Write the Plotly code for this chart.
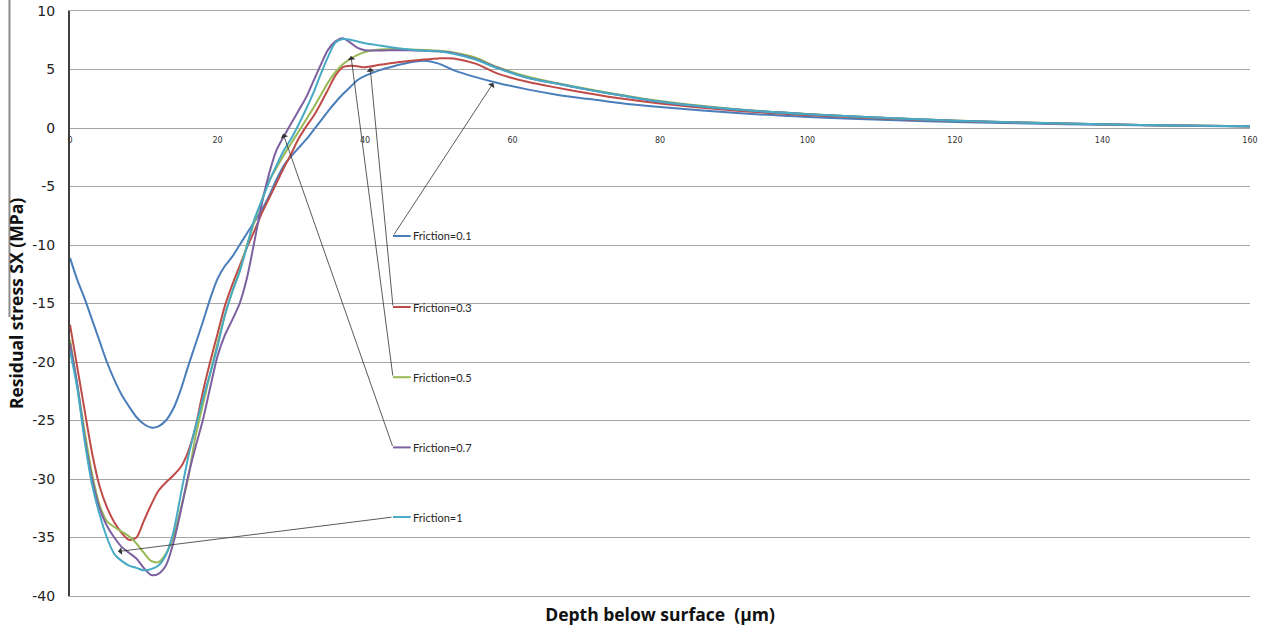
import plotly.graph_objects as go

depth = [0, 1, 2, 3, 4, 5, 6, 7, 8, 9, 10, 11, 12, 13, 14, 15, 16, 17, 18, 19,
         20, 21, 22, 23, 24, 25, 26, 27, 28, 29, 30, 31, 32, 33, 34, 35, 36, 37,
         38, 39, 40, 42, 44, 46, 48, 50, 52, 55, 58, 62, 66, 70, 75, 80, 90, 100,
         110, 120, 130, 140, 150, 160]

f01 = [-11.1, -13.0, -14.6, -16.4, -18.2, -20.0, -21.5, -22.8, -23.8, -24.7,
       -25.3, -25.6, -25.5, -25.0, -24.0, -22.4, -20.4, -18.5, -16.6, -14.6,
       -12.9, -11.8, -11.0, -10.0, -9.0, -8.0, -7.0, -5.8, -4.4, -3.2,
       -2.4, -1.7, -1.0, -0.2, 0.6, 1.45, 2.2, 2.9, 3.5, 4.1,
       4.45, 4.95, 5.3, 5.6, 5.75, 5.5, 4.95, 4.35, 3.85, 3.3,
       2.85, 2.5, 2.1, 1.8, 1.3, 0.95, 0.7, 0.52, 0.38, 0.28, 0.2, 0.13]

f03 = [-16.8, -20.5, -24.2, -27.8, -30.6, -32.4, -33.7, -34.6, -35.2, -35.0,
       -33.6, -32.2, -31.0, -30.3, -29.7, -29.0, -27.7, -25.6, -22.6, -20.0,
       -17.6, -15.2, -13.4, -11.8, -10.2, -8.8, -7.3, -6.0, -4.7, -3.4,
       -2.2, -0.9, 0.1, 1.0, 2.1, 3.3, 4.5, 5.2, 5.33, 5.27,
       5.2, 5.4, 5.58, 5.72, 5.85, 5.95, 5.95, 5.5, 4.65, 3.95,
       3.45, 3.0, 2.5, 2.1, 1.5, 1.1, 0.82, 0.6, 0.44, 0.31, 0.22, 0.15]

f05 = [-18.1, -22.0, -26.0, -29.6, -32.2, -33.6, -34.1, -34.5, -34.9, -35.5,
       -36.3, -37.0, -37.1, -36.4, -35.0, -32.6, -30.0, -26.4, -23.7, -21.0,
       -18.4, -16.0, -14.0, -12.2, -10.0, -8.0, -6.2, -4.5, -3.4, -2.3,
       -1.3, -0.3, 0.7, 1.7, 2.8, 3.9, 4.8, 5.45, 5.9, 6.25,
       6.5, 6.7, 6.75, 6.72, 6.67, 6.6, 6.45, 6.0, 5.2, 4.4,
       3.85, 3.35, 2.8, 2.3, 1.62, 1.2, 0.88, 0.64, 0.46, 0.32, 0.22, 0.15]

f07 = [-18.4, -22.0, -26.5, -30.0, -32.5, -34.0, -35.0, -35.8, -36.3, -36.8,
       -37.6, -38.2, -38.1, -37.4, -35.5, -32.8, -29.8, -27.3, -25.0, -22.2,
       -19.5, -17.7, -16.4, -15.0, -12.8, -9.7, -6.5, -3.9, -1.9, -0.7,
       0.4, 1.5, 2.6, 4.0, 5.4, 6.7, 7.4, 7.67, 7.3, 6.85,
       6.65, 6.62, 6.65, 6.65, 6.6, 6.55, 6.4, 5.9, 5.15, 4.3,
       3.8, 3.3, 2.75, 2.25, 1.6, 1.18, 0.87, 0.63, 0.45, 0.32, 0.22, 0.15]

f10 = [-19.0, -22.3, -26.8, -30.5, -33.0, -35.0, -36.4, -37.0, -37.4, -37.6,
       -37.8, -37.7, -37.4, -36.5, -34.6, -31.4, -28.2, -25.6, -23.2, -21.0,
       -18.7, -16.0, -14.0, -12.3, -10.1, -7.8, -6.2, -4.6, -3.2, -1.9,
       -0.9, 0.3, 1.6, 3.0, 4.6, 6.1, 7.3, 7.6, 7.55, 7.4,
       7.25, 7.05, 6.85, 6.7, 6.6, 6.55, 6.35, 5.85, 5.1, 4.3,
       3.8, 3.3, 2.75, 2.25, 1.6, 1.18, 0.87, 0.63, 0.45, 0.32, 0.22, 0.15]

series_names = ["Friction=0.1", "Friction=0.3", "Friction=0.5", "Friction=0.7", "Friction=1"]
series_values = [f01, f03, f05, f07, f10]
colors = ["#4A7EBB", "#BE4B48", "#98B954", "#7D60A0", "#46AAC5"]

# label anchor (y) and arrow targets (x, y)
label_y = [-9.23, -15.3, -21.3, -27.3, -33.25]
target_x = [57.4, 40.7, 38.1, 28.9, 6.5]
target_y = [3.85, 5.15, 6.15, -0.5, -36.2]

x_ticks = [0, 20, 40, 60, 80, 100, 120, 140, 160]
y_ticks = [10, 5, 0, -5, -10, -15, -20, -25, -30, -35, -40]

fig = go.Figure()
for name, vals, col in zip(series_names, series_values, colors):
    fig.add_trace(go.Scatter(x=depth, y=vals, mode="lines", name=name,
                             line=dict(color=col, width=2, shape="spline", smoothing=0.8),
                             showlegend=False))

# dummy trace for tick-label axis
fig.add_trace(go.Scatter(x=[0, 160], y=[None, None], xaxis="x2", mode="lines",
                         showlegend=False, hoverinfo="skip"))

key_x0, key_x1, text_x = 43.8, 46.2, 46.3
annotations = []
shapes = []
for name, ly, tx, ty, col in zip(series_names, label_y, target_x, target_y, colors):
    annotations.append(dict(x=tx, y=ty, ax=key_x0, ay=ly, xref="x", yref="y",
                            axref="x", ayref="y", text="", showarrow=True,
                            arrowhead=1, arrowsize=1.6, arrowwidth=0.8,
                            arrowcolor="#303030", standoff=0, startstandoff=0))
    annotations.append(dict(x=text_x, y=ly, xref="x", yref="y", text=name,
                            showarrow=False, xanchor="left", yanchor="middle",
                            font=dict(family="Lato", size=11, color="#262626")))
    shapes.append(dict(type="line", xref="x", yref="y", x0=key_x0, x1=key_x1,
                       y0=ly, y1=ly, line=dict(color=col, width=2)))

shapes.append(dict(type="line", xref="paper", yref="paper", x0=-0.0513, x1=-0.0513,
                   y0=0.477, y1=1.0188, line=dict(color="#8c8c8c", width=2)))

fig.update_layout(
    width=1266, height=630,
    margin=dict(l=70, r=16, t=11, b=34),
    paper_bgcolor="white", plot_bgcolor="white",
    annotations=annotations, shapes=shapes,
    xaxis=dict(range=[0, 160], showgrid=False, zeroline=False, automargin=False,
               showticklabels=False, ticks="", showline=True,
               linecolor="#a6a6a6", linewidth=1, mirror=True,
               title=dict(text="<b>Depth below surface  (µm)</b>", standoff=12,
                          font=dict(family="Open Sans", size=17.5, color="#111"))),
    xaxis2=dict(overlaying="x", matches="x", anchor="free", position=0.8,
                side="bottom", showgrid=False, zeroline=False, showline=False,
                automargin=False, ticklabeloverflow="allow",
                ticks="", tickvals=x_ticks, ticktext=[str(v) for v in x_ticks],
                tickfont=dict(family="DejaVu Sans", size=8, color="#333"),
                ticklabelstandoff=6),
    yaxis=dict(range=[-40, 10], tickvals=y_ticks, ticktext=[str(v) for v in y_ticks],
               showgrid=True, gridcolor="#a6a6a6", gridwidth=1, zeroline=False,
               automargin=False, ticklabeloverflow="allow",
               showline=True, linecolor="#404040", linewidth=2, ticks="",
               ticklabelstandoff=10,
               tickfont=dict(family="DejaVu Sans", size=14, color="#222"),
               title=dict(text="<b>Residual stress SX (MPa)</b>", standoff=4,
                          font=dict(family="Open Sans", size=17.5, color="#111"))),
)

fig.write_html("out.html", config={"displayModeBar": False},
               post_script="document.body.style.margin='0';")
